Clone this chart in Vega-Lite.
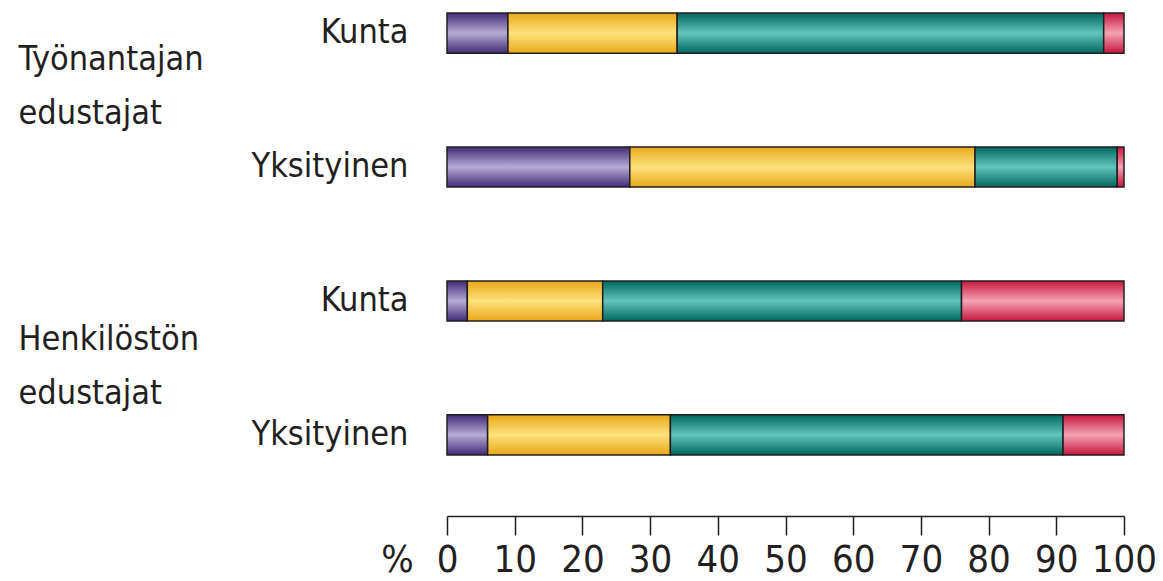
{
  "$schema": "https://vega.github.io/schema/vega-lite/v6.json",
  "width": 677,
  "height": 442,
  "autosize": {"type": "none"},
  "padding": {"left": 447, "top": 13, "right": 39, "bottom": 126},
  "background": "white",
  "config": {
    "view": {"stroke": null},
    "font": "DejaVu Sans Condensed, sans-serif"
  },
  "data": {
    "values": [
      {"group": "Työnantajan edustajat", "row": "T|Kunta", "cat": "luokka 1", "order": 1, "pct": 9},
      {"group": "Työnantajan edustajat", "row": "T|Kunta", "cat": "luokka 2", "order": 2, "pct": 25},
      {"group": "Työnantajan edustajat", "row": "T|Kunta", "cat": "luokka 3", "order": 3, "pct": 63},
      {"group": "Työnantajan edustajat", "row": "T|Kunta", "cat": "luokka 4", "order": 4, "pct": 3},
      {"group": "Työnantajan edustajat", "row": "T|Yksityinen", "cat": "luokka 1", "order": 1, "pct": 27},
      {"group": "Työnantajan edustajat", "row": "T|Yksityinen", "cat": "luokka 2", "order": 2, "pct": 51},
      {"group": "Työnantajan edustajat", "row": "T|Yksityinen", "cat": "luokka 3", "order": 3, "pct": 21},
      {"group": "Työnantajan edustajat", "row": "T|Yksityinen", "cat": "luokka 4", "order": 4, "pct": 1},
      {"group": "Henkilöstön edustajat", "row": "H|Kunta", "cat": "luokka 1", "order": 1, "pct": 3},
      {"group": "Henkilöstön edustajat", "row": "H|Kunta", "cat": "luokka 2", "order": 2, "pct": 20},
      {"group": "Henkilöstön edustajat", "row": "H|Kunta", "cat": "luokka 3", "order": 3, "pct": 53},
      {"group": "Henkilöstön edustajat", "row": "H|Kunta", "cat": "luokka 4", "order": 4, "pct": 24},
      {"group": "Henkilöstön edustajat", "row": "H|Yksityinen", "cat": "luokka 1", "order": 1, "pct": 6},
      {"group": "Henkilöstön edustajat", "row": "H|Yksityinen", "cat": "luokka 2", "order": 2, "pct": 27},
      {"group": "Henkilöstön edustajat", "row": "H|Yksityinen", "cat": "luokka 3", "order": 3, "pct": 58},
      {"group": "Henkilöstön edustajat", "row": "H|Yksityinen", "cat": "luokka 4", "order": 4, "pct": 9}
    ]
  },
  "transform": [
    {"stack": "pct", "groupby": ["row"], "as": ["x0", "x1"], "sort": [{"field": "order", "order": "ascending"}]}
  ],
  "layer": [
    {
      "encoding": {
        "y": {
          "field": "row", "type": "nominal",
          "scale": {"domain": ["T|Kunta", "T|Yksityinen", "H|Kunta", "H|Yksityinen"], "paddingInner": 0.7, "paddingOuter": 0},
          "axis": {
            "title": null, "domain": false, "ticks": false, "labelPadding": 39,
            "labelFontSize": 34, "labelColor": "#231f20", "labelLimit": 0,
            "labelExpr": "split(datum.label, '|')[1]"
          }
        },
        "x": {
          "field": "x0", "type": "quantitative",
          "scale": {"domain": [0, 100], "nice": false, "zero": true},
          "axis": {
            "orient": "bottom", "offset": 61, "values": [0, 10, 20, 30, 40, 50, 60, 70, 80, 90, 100],
            "grid": false, "tickSize": 19, "tickColor": "#231f20", "tickWidth": 1.5,
            "domainColor": "#231f20", "domainWidth": 1.5,
            "labelPadding": 6, "labelFontSize": 38, "labelColor": "#231f20", "labelFlush": false,
            "title": "%", "titleX": -50, "titleY": 55, "titleAngle": 0, "titleAlign": "center",
            "titleBaseline": "alphabetic", "titleFontSize": 38, "titleFontWeight": "normal", "titleColor": "#231f20"
          }
        },
        "x2": {"field": "x1"}
      },
      "layer": [
        {
          "transform": [{"filter": "datum.cat === 'luokka 1'"}],
          "mark": {"type": "bar", "stroke": "#231f20", "strokeWidth": 1.5,
            "color": {"gradient": "linear", "x1": 0, "y1": 0, "x2": 0, "y2": 1,
              "stops": [{"offset": 0, "color": "#3f2b74"}, {"offset": 0.5, "color": "#b7abd6"}, {"offset": 1, "color": "#3f2b74"}]}}
        },
        {
          "transform": [{"filter": "datum.cat === 'luokka 2'"}],
          "mark": {"type": "bar", "stroke": "#231f20", "strokeWidth": 1.5,
            "color": {"gradient": "linear", "x1": 0, "y1": 0, "x2": 0, "y2": 1,
              "stops": [{"offset": 0, "color": "#e8a717"}, {"offset": 0.5, "color": "#fde27d"}, {"offset": 1, "color": "#e8a717"}]}}
        },
        {
          "transform": [{"filter": "datum.cat === 'luokka 3'"}],
          "mark": {"type": "bar", "stroke": "#231f20", "strokeWidth": 1.5,
            "color": {"gradient": "linear", "x1": 0, "y1": 0, "x2": 0, "y2": 1,
              "stops": [{"offset": 0, "color": "#00665c"}, {"offset": 0.5, "color": "#63c5be"}, {"offset": 1, "color": "#00665c"}]}}
        },
        {
          "transform": [{"filter": "datum.cat === 'luokka 4'"}],
          "mark": {"type": "bar", "stroke": "#231f20", "strokeWidth": 1.5,
            "color": {"gradient": "linear", "x1": 0, "y1": 0, "x2": 0, "y2": 1,
              "stops": [{"offset": 0, "color": "#c6163d"}, {"offset": 0.5, "color": "#f4a2b5"}, {"offset": 1, "color": "#c6163d"}]}}
        }
      ]
    },
    {
      "mark": {"type": "bar", "opacity": 0},
      "encoding": {
        "y": {
          "field": "group", "type": "nominal",
          "scale": {"domain": ["Työnantajan edustajat", "Henkilöstön edustajat"], "paddingInner": 0.416, "paddingOuter": 0},
          "axis": {
            "orient": "left", "offset": 429, "title": null, "domain": false, "ticks": false, "tickSize": 0,
            "labelPadding": 0, "labelAlign": "left", "labelBaseline": "middle", "labelOffset": -34,
            "labelFontSize": 34, "labelColor": "#231f20", "labelLineHeight": 54, "labelLimit": 0,
            "labelExpr": "split(datum.label, ' ')"
          }
        },
        "x": {"field": "x0", "type": "quantitative"},
        "x2": {"field": "x1"}
      }
    }
  ],
  "resolve": {"scale": {"y": "independent"}}
}
